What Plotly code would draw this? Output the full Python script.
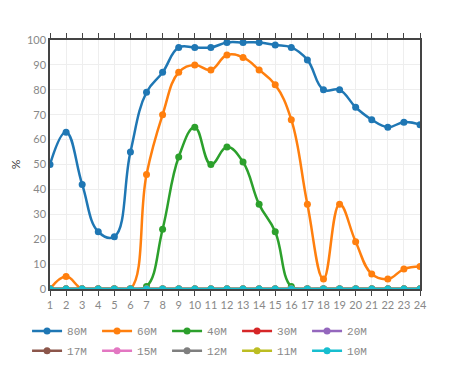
import plotly.graph_objects as go

hours = list(range(1, 25))
band_names = ["80M", "60M", "40M", "30M", "20M", "17M", "15M", "12M", "11M", "10M"]
colors = ["#1f77b4", "#ff7f0e", "#2ca02c", "#d62728", "#9467bd",
          "#8c564b", "#e377c2", "#7f7f7f", "#bcbd22", "#17becf"]

v80 = [50, 63, 42, 23, 21, 55, 79, 87, 97, 97, 97, 99, 99, 99, 98, 97, 92, 80, 80, 73, 68, 65, 67, 66]
v60 = [0, 5, 0, 0, 0, 0, 46, 70, 87, 90, 88, 94, 93, 88, 82, 68, 34, 4, 34, 19, 6, 4, 8, 9]
v40 = [0, 0, 0, 0, 0, 0, 1, 24, 53, 65, 50, 57, 51, 34, 23, 1, 0, 0, 0, 0, 0, 0, 0, 0]
v30 = [0] * 24
v20 = [0] * 24
v17 = [0] * 24
v15 = [0] * 24
v12 = [0] * 24
v11 = [0] * 24
v10 = [0] * 24

series = [v80, v60, v40, v30, v20, v17, v15, v12, v11, v10]

fig = go.Figure()
for i, (name, vals, c) in enumerate(zip(band_names, series, colors)):
    fig.add_trace(go.Scatter(
        x=hours, y=vals, name=name, mode="lines+markers",
        line=dict(color=c, width=2.5, shape="spline", smoothing=1.2),
        marker=dict(color=c, size=7),
        legend="legend" if i < 5 else "legend2",
    ))

leg_common = dict(orientation="h", xanchor="left", yanchor="top",
                  entrywidth=25, entrywidthmode="pixels",
                  font=dict(family="Liberation Mono, monospace", size=11, color="#888"),
                  tracegroupgap=0)

fig.update_layout(
    width=462, height=368,
    margin=dict(l=42, r=50, t=32, b=87, autoexpand=False),
    plot_bgcolor="white", paper_bgcolor="white",
    font=dict(family="Lato, sans-serif", size=11, color="#888"),
    showlegend=True,
    legend=dict(x=-0.062, y=-0.11, **leg_common),
    legend2=dict(x=-0.062, y=-0.19, **leg_common),
)
fig.update_xaxes(
    range=[1, 24], tickmode="linear", tick0=1, dtick=1,
    showgrid=True, gridcolor="#eeeeee", gridwidth=1,
    showline=True, linecolor="#444", linewidth=1.5, mirror="ticks",
    ticks="outside", ticklen=5, tickcolor="#444",
    zeroline=False, tickfont=dict(size=11, color="#888"), automargin=False,
)
fig.update_yaxes(
    range=[0, 100], tickmode="linear", tick0=0, dtick=10,
    showgrid=True, gridcolor="#eeeeee", gridwidth=1,
    showline=True, linecolor="#444", linewidth=1.5, mirror=True,
    ticks="", zeroline=False, tickfont=dict(size=11, color="#888"),
    title=dict(text="%", font=dict(size=12, color="#444"), standoff=20),
    automargin=False,
)

fig.write_html("out.html")
